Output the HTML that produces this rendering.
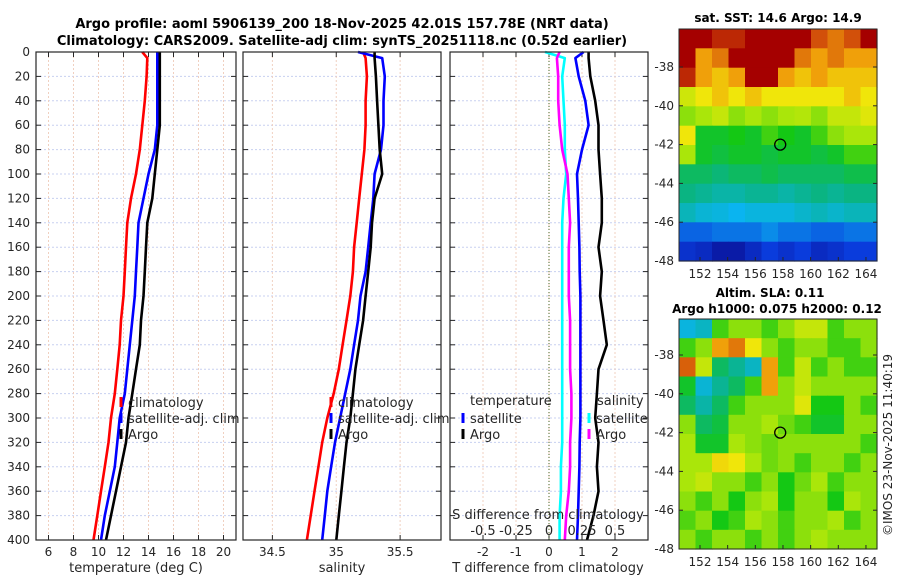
<!DOCTYPE html>
<html><head><meta charset="utf-8"><style>
body{margin:0;background:#fff}
svg{display:block;font-family:"DejaVu Sans","Liberation Sans",sans-serif}
</style></head><body>
<svg id="c" width="900" height="580" viewBox="0 0 900 580">
<text x="342" y="28" text-anchor="middle" font-weight="bold" font-size="13">Argo profile: aoml 5906139_200 18-Nov-2025 42.01S 157.78E (NRT data)</text>
<text x="342" y="45" text-anchor="middle" font-weight="bold" font-size="13">Climatology: CARS2009. Satellite-adj clim: synTS_20251118.nc (0.52d earlier)</text>
<text x="778" y="22" text-anchor="middle" font-weight="bold" font-size="12">sat. SST: 14.6 Argo: 14.9</text>
<text x="770" y="297" text-anchor="middle" font-weight="bold" font-size="12">Altim. SLA: 0.11</text>
<text x="777" y="313" text-anchor="middle" font-weight="bold" font-size="12">Argo h1000: 0.075 h2000: 0.12</text>
<text transform="translate(892,445) rotate(-90)" text-anchor="middle" font-size="12" fill="#262626">©IMOS 23-Nov-2025 11:40:19</text>
<g id="g"></g>
</svg>
<script>
const depths=[0,5,20,40,60,80,100,120,140,160,180,200,220,240,260,280,300,320,340,360,380,400];
const tClim=[13.5,13.9,13.85,13.7,13.5,13.3,13.0,12.6,12.3,12.2,12.1,12.0,11.8,11.7,11.5,11.3,11.0,10.8,10.5,10.2,9.9,9.6];
const tSat=[14.7,14.7,14.7,14.7,14.7,14.5,14.0,13.6,13.2,13.1,13.0,12.9,12.7,12.5,12.3,12.1,11.7,11.5,11.3,10.9,10.5,10.2];
const tArgo=[14.9,14.9,14.9,14.9,14.9,14.7,14.5,14.3,13.9,13.8,13.7,13.6,13.4,13.3,13.0,12.7,12.4,12.2,11.8,11.4,11.0,10.6];
const sClim=[35.21,35.23,35.24,35.23,35.23,35.22,35.2,35.18,35.16,35.14,35.13,35.11,35.08,35.05,35.02,34.98,34.93,34.89,34.86,34.83,34.8,34.77];
const sSat=[35.17,35.36,35.38,35.37,35.37,35.35,35.3,35.29,35.27,35.25,35.23,35.19,35.17,35.14,35.11,35.07,35.03,34.99,34.96,34.93,34.91,34.89];
const sArgo=[35.3,35.3,35.31,35.32,35.33,35.34,35.36,35.3,35.28,35.27,35.25,35.23,35.21,35.18,35.15,35.13,35.11,35.08,35.06,35.04,35.02,35.0];
const dTSat=[1.05,0.8,0.9,1.1,1.2,1.0,0.85,0.88,0.9,0.92,0.93,0.95,0.95,0.95,0.95,0.95,0.95,0.93,0.92,0.9,0.88,0.85];
const dTArgo=[1.2,1.2,1.25,1.4,1.5,1.5,1.55,1.6,1.6,1.5,1.6,1.55,1.65,1.75,1.5,1.45,1.4,1.5,1.45,1.5,1.35,1.15];
const dSSat=[-0.03,0.12,0.1,0.11,0.12,0.12,0.13,0.11,0.1,0.1,0.1,0.1,0.1,0.1,0.1,0.1,0.1,0.1,0.09,0.09,0.08,0.08];
const dSArgo=[0.08,0.06,0.07,0.07,0.08,0.1,0.14,0.15,0.16,0.15,0.15,0.15,0.16,0.16,0.16,0.17,0.17,0.16,0.16,0.15,0.13,0.12];
const tTicks=[6,8,10,12,14,16,18,20];
const sTicks=[34.5,35,35.5];
const dTTicks=[-2,-1,0,1,2];
const dSTicks=[-0.5,-0.25,0,0.25,0.5];
const dSLabels=["-0.5","-0.25","0","0.25","0.5"];
const latTicks=[-38,-40,-42,-44,-46,-48];
const lonTicks=[152,154,156,158,160,162,164];
const sstGrid=[
[1,1,0.95,0.95,1,1,1,1,0.9,0.85,0.9,1],
[1,0.8,0.85,1,1,1,1,0.85,0.8,0.85,0.8,0.8],
[0.95,0.8,0.75,0.8,1,1,0.8,0.75,0.8,0.75,0.75,0.75],
[0.66,0.7,0.75,0.7,0.75,0.7,0.7,0.7,0.7,0.7,0.75,0.7],
[0.6,0.62,0.65,0.6,0.62,0.6,0.62,0.63,0.6,0.65,0.65,0.68],
[0.7,0.5,0.5,0.52,0.5,0.55,0.52,0.5,0.55,0.6,0.62,0.62],
[0.62,0.5,0.48,0.5,0.5,0.48,0.5,0.5,0.48,0.5,0.55,0.55],
[0.45,0.45,0.43,0.45,0.45,0.47,0.45,0.45,0.45,0.45,0.47,0.47],
[0.42,0.4,0.38,0.38,0.4,0.4,0.38,0.4,0.42,0.4,0.42,0.42],
[0.36,0.33,0.32,0.3,0.32,0.32,0.32,0.34,0.36,0.34,0.36,0.36],
[0.2,0.2,0.22,0.22,0.22,0.25,0.22,0.22,0.2,0.2,0.22,0.22],
[0.12,0.1,0.05,0.05,0.1,0.15,0.12,0.15,0.1,0.12,0.15,0.15]];
const slaGrid=[
[0.32,0.35,0.55,0.6,0.6,0.55,0.6,0.65,0.65,0.55,0.6,0.6],
[0.55,0.6,0.8,0.85,0.7,0.6,0.55,0.6,0.6,0.55,0.55,0.6],
[0.88,0.65,0.45,0.4,0.35,0.8,0.55,0.65,0.55,0.6,0.55,0.55],
[0.5,0.33,0.4,0.45,0.55,0.8,0.6,0.65,0.6,0.6,0.6,0.6],
[0.45,0.38,0.45,0.55,0.6,0.6,0.6,0.68,0.52,0.52,0.6,0.55],
[0.6,0.45,0.48,0.6,0.6,0.62,0.58,0.55,0.5,0.5,0.6,0.6],
[0.62,0.5,0.5,0.62,0.6,0.58,0.6,0.6,0.6,0.6,0.6,0.55],
[0.62,0.62,0.72,0.7,0.62,0.58,0.6,0.55,0.6,0.6,0.55,0.6],
[0.62,0.65,0.6,0.6,0.55,0.6,0.52,0.58,0.62,0.55,0.6,0.6],
[0.6,0.55,0.6,0.52,0.6,0.62,0.52,0.6,0.6,0.52,0.62,0.6],
[0.56,0.6,0.52,0.55,0.62,0.6,0.55,0.6,0.6,0.62,0.55,0.6],
[0.6,0.55,0.6,0.6,0.55,0.6,0.55,0.6,0.62,0.6,0.6,0.6]];
const argoPos=[157.8,-42.0];

const NS='http://www.w3.org/2000/svg';
const G=document.getElementById('g');
function mk(tag,at,parent){const e=document.createElementNS(NS,tag);for(const k in at)e.setAttribute(k,at[k]);(parent||G).appendChild(e);return e;}
function txt(x,y,s,at,parent){const e=mk('text',Object.assign({x:x,y:y,'font-size':12,fill:'#262626'},at||{}),parent);e.textContent=s;return e;}
const yTop=52,yBot=540;
const yD=d=>yTop+d/400*(yBot-yTop);
const panels=[
 {x0:36,x1:236,v0:5,v1:21,name:'temperature-panel'},
 {x0:243,x1:441,v0:34.27,v1:35.82,name:'salinity-panel'},
 {x0:450,x1:648,v0:-3,v1:3,name:'difference-panel'}];
function xf(p){return v=>p.x0+(v-p.v0)/(p.v1-p.v0)*(p.x1-p.x0);}
function frame(p,ticks,showY){
 const fx=xf(p);
 const g=mk('g',{});
 
 
 for(let d=20;d<400;d+=20){mk('line',{x1:p.x0,x2:p.x1,y1:yD(d),y2:yD(d),stroke:'#c8d0f0','stroke-width':1,'stroke-dasharray':'2,2'},g);}
 ticks.forEach(t=>{const X=fx(t);
  mk('line',{x1:X,x2:X,y1:yTop,y2:yBot,stroke:'#f0d0c0','stroke-width':1,'stroke-dasharray':'2,2'},g);
  mk('line',{x1:X,x2:X,y1:yBot,y2:yBot-5,stroke:'#262626'},g);
  mk('line',{x1:X,x2:X,y1:yTop,y2:yTop+5,stroke:'#262626'},g);
  const t2=txt(X,556,String(t),{'text-anchor':'middle'},g);
  
  
 });
 for(let d=0;d<=400;d+=20){
  mk('line',{x1:p.x0,x2:p.x0+5,y1:yD(d),y2:yD(d),stroke:'#262626'},g);
  mk('line',{x1:p.x1,x2:p.x1-5,y1:yD(d),y2:yD(d),stroke:'#262626'},g);
  if(showY){const t3=txt(30,yD(d)+4,String(d),{'text-anchor':'end'},g);
   
   }
 }
 return g;
}
function line(p,vals,color,name,w){
 const fx=xf(p);
 const pts=vals.map((v,i)=>fx(v).toFixed(1)+','+yD(depths[i]).toFixed(1)).join(' ');
 const e=mk('polyline',{points:pts,fill:'none',stroke:color,'stroke-width':w||2.6,'stroke-linejoin':'round'});
 
 
}
function box(p){mk('rect',{x:p.x0,y:yTop,width:p.x1-p.x0,height:yBot-yTop,fill:'none',stroke:'#262626','stroke-width':1.2});}
function legEntry(x,y,color,label,name){
 const m=mk('line',{x1:x,x2:x,y1:y-10,y2:y,stroke:color,'stroke-width':3});
 
 
 const t=txt(x+7,y,label,{'font-size':13,fill:'#262626'});
 
 
}
let p=panels[0];
frame(p,tTicks,true);
line(p,tClim,'#ff0000','temp-climatology-line');
line(p,tSat,'#0000ff','temp-satellite-line');
line(p,tArgo,'#000000','temp-argo-line');
box(p);
legEntry(121,407,'#ff0000','climatology','legend-climatology');
legEntry(121,423,'#0000ff','satellite-adj. clim','legend-satellite');
legEntry(121,439,'#000000','Argo','legend-argo');
let at=txt(136,572,'temperature (deg C)',{'text-anchor':'middle','font-size':13});


p=panels[1];
frame(p,sTicks,false);
line(p,sClim,'#ff0000','sal-climatology-line');
line(p,sSat,'#0000ff','sal-satellite-line');
line(p,sArgo,'#000000','sal-argo-line');
box(p);
legEntry(331,407,'#ff0000','climatology','legend-climatology-2');
legEntry(331,423,'#0000ff','satellite-adj. clim','legend-satellite-2');
legEntry(331,439,'#000000','Argo','legend-argo-2');
at=txt(342,572,'salinity',{'text-anchor':'middle','font-size':13});


p=panels[2];
frame(p,dTTicks,false);
const fx3=xf(p);
mk('line',{x1:fx3(0),x2:fx3(0),y1:yTop,y2:yBot,stroke:'#4a6a2a','stroke-width':1,'stroke-dasharray':'1,2'});
const sx=s=>s*4;
line(p,dSSat.map(sx),'#00ffff','sdiff-satellite-line');
line(p,dSArgo.map(sx),'#ff00ff','sdiff-argo-line');
line(p,dTSat,'#0000ff','tdiff-satellite-line');
line(p,dTArgo,'#000000','tdiff-argo-line');
box(p);
dSTicks.forEach((s,i)=>{const t=txt(fx3(sx(s)),535,dSLabels[i],{'text-anchor':'middle','font-size':13});
 
 });
at=txt(548,519,'S difference from climatology',{'text-anchor':'middle','font-size':13});


at=txt(470,405,'temperature',{'font-size':13});


at=txt(597,405,'salinity',{'font-size':13});


legEntry(463,423,'#0000ff','satellite','legend-t-satellite');
legEntry(463,439,'#000000','Argo','legend-t-argo');
legEntry(589,423,'#00ffff','satellite','legend-s-satellite');
legEntry(589,439,'#ff00ff','Argo','legend-s-argo');
at=txt(548,572,'T difference from climatology',{'text-anchor':'middle','font-size':13});



const cmapStops=[[0,[10,10,140]],[0.15,[10,60,220]],[0.3,[10,180,240]],[0.42,[10,180,130]],[0.52,[20,200,20]],[0.62,[170,230,10]],[0.7,[240,230,10]],[0.8,[240,160,10]],[0.9,[210,80,10]],[1,[165,0,0]]];
function cmap(v){v=Math.max(0,Math.min(1,v));
 for(let i=1;i<cmapStops.length;i++){const a=cmapStops[i-1],b=cmapStops[i];
  if(v<=b[0]){const f=(v-a[0])/(b[0]-a[0]);const c=a[1].map((x,k)=>Math.round(x+(b[1][k]-x)*f));return 'rgb('+c.join(',')+')';}}
 return 'rgb(165,0,0)';}
function drawMap(grid,y0,lat38y,name){
 const x0=679,x1=877;
 const fy=lat=>lat38y+(-38-lat)*19.4;
 const fxm=lon=>700+(lon-152)*13.83;
 const yB=fy(-48);
 const g=mk('g',{});
 
 
 const rows=grid.length,cols=grid[0].length;
 const ch=(yB-y0)/rows,cw=(x1-x0)/cols;
 grid.forEach((row,r)=>row.forEach((v,c)=>{
  const e=mk('rect',{x:(x0+c*cw).toFixed(1),y:(y0+r*ch).toFixed(1),width:(cw+0.6).toFixed(1),height:(ch+0.6).toFixed(1),fill:cmap(v)},g);
  
  
 }));
 mk('rect',{x:x0,y:y0,width:x1-x0,height:yB-y0,fill:'none',stroke:'#262626','stroke-width':1},g);
 latTicks.forEach(l=>{const Y=fy(l);
  mk('line',{x1:x0,x2:x0+4,y1:Y,y2:Y,stroke:'#262626'},g);
  mk('line',{x1:x1,x2:x1-4,y1:Y,y2:Y,stroke:'#262626'},g);
  const t=txt(674,Y+4,String(l),{'text-anchor':'end'},g);
  
  });
 lonTicks.forEach(l=>{const X=fxm(l);
  mk('line',{x1:X,x2:X,y1:yB,y2:yB-4,stroke:'#262626'},g);
  const t=txt(X,yB+17,String(l),{'text-anchor':'middle'},g);
  
  });
 const c=mk('circle',{cx:fxm(argoPos[0]),cy:fy(argoPos[1]),r:5.5,fill:'none',stroke:'#000','stroke-width':1.3},g);
 
 
}
drawMap(sstGrid,29,67,'sst-map');
drawMap(slaGrid,319,355,'sla-map');
</script>
</body></html>
